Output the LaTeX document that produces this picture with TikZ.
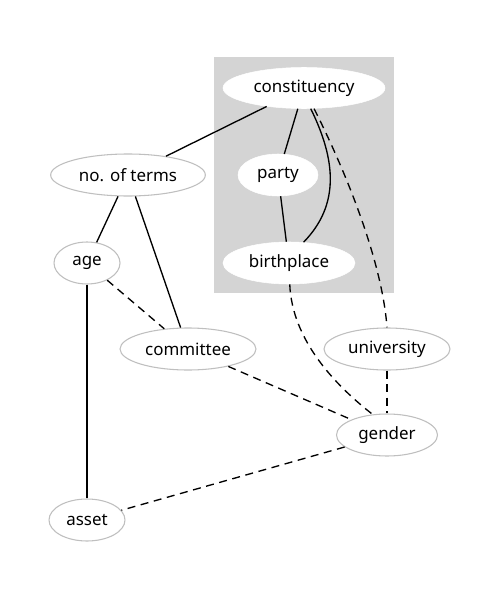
\documentclass[tikz,border=0pt]{standalone}
\usepackage{fontspec}
\setmainfont{Noto Sans}
\usetikzlibrary{shapes.geometric}
\begin{document}
\begin{tikzpicture}[x=0.75pt,y=-0.75pt,
  every node/.style={font=\fontsize{12.7}{14}\selectfont},
  outer/.style={ellipse,draw=black!25,line width=0.8pt,fill=white,inner sep=0pt,minimum height=31.5pt},
  inner/.style={ellipse,draw=white,fill=white,inner sep=0pt,minimum height=31.5pt},
  solidedge/.style={line width=1pt,black},
  dashedge/.style={line width=1pt,black,dash pattern=on 6pt off 4.2pt},
]
\useasboundingbox (0,0) rectangle (498,592);
\fill[fill=black!17] (214,57) rectangle (394,293);
\node[inner,minimum width=121.5pt,minimum height=30.75pt] (con) at (304,88) {constituency};
\node[inner,minimum width=60pt] (par) at (278,175) {party};
\node[inner,minimum width=99pt] (bir) at (289,263) {birthplace};
\node[outer,minimum width=116pt] (not) at (128,175) {no. of terms};
\node[outer,minimum width=49.5pt] (age) at (87,263) {age};
\node[outer,minimum width=102pt] (com) at (188,349) {committee};
\node[outer,minimum width=94.5pt] (uni) at (387,349) {university};
\node[outer,minimum width=75.75pt] (gen) at (387,435) {gender};
\node[outer,minimum width=57pt] (ass) at (87,520) {asset};
\draw[solidedge] (con) -- (not);
\draw[solidedge] (con) -- (par);
\draw[solidedge] (par) -- (bir);
\draw[solidedge] (con.-72) .. controls (336,160) and (340,205) .. (bir.55);
\draw[dashedge] (con.-64) .. controls (345,170) and (382,260) .. (uni.north);
\draw[dashedge] (bir.-88) .. controls (292,340) and (335,385) .. (gen.125);
\draw[solidedge] (not) -- (age);
\draw[solidedge] (not) -- (com);
\draw[dashedge] (age) -- (com);
\draw[solidedge] (age) -- (ass);
\draw[dashedge] (com) -- (gen);
\draw[dashedge] (uni) -- (gen);
\draw[dashedge] (gen) -- (ass);
\end{tikzpicture}
\end{document}
